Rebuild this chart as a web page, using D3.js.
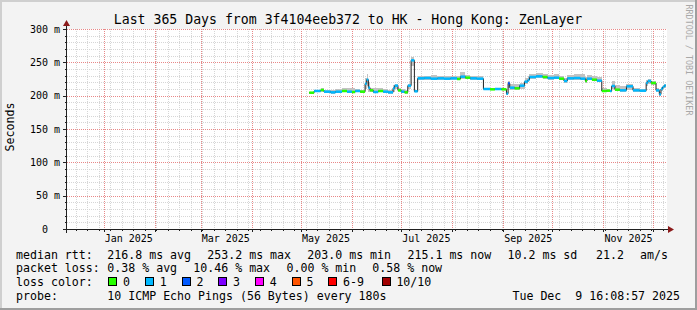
<!DOCTYPE html>
<html>
<head>
<meta charset="utf-8">
<script src="https://cdn.jsdelivr.net/npm/d3@7"></script>
<style>
html, body { margin: 0; padding: 0; background: #f3f3f3; }
svg text { font-family: "DejaVu Sans Mono", monospace; white-space: pre; }
</style>
</head>
<body>
<div id="chart"></div>
<script>
// samples of the median rtt (ms), loss bucket and smoke spread
const dates = [
  "2025-05-06","2025-05-09","2025-05-13","2025-05-15","2025-05-19","2025-05-22","2025-05-26","2025-05-29",
  "2025-06-01","2025-06-03","2025-06-06","2025-06-09","2025-06-10","2025-06-11","2025-06-12","2025-06-14",
  "2025-06-17","2025-06-20","2025-06-23","2025-06-26","2025-06-27","2025-06-29","2025-07-01","2025-07-03",
  "2025-07-05","2025-07-07","2025-07-09","2025-07-11","2025-07-15","2025-07-19","2025-07-23","2025-07-27",
  "2025-07-31","2025-08-04","2025-08-06","2025-08-09","2025-08-12","2025-08-16","2025-08-20","2025-08-24",
  "2025-08-27","2025-08-31","2025-09-03","2025-09-04","2025-09-05","2025-09-08","2025-09-11","2025-09-14",
  "2025-09-16","2025-09-17","2025-09-21","2025-09-25","2025-09-28","2025-10-02","2025-10-05","2025-10-08",
  "2025-10-10","2025-10-14","2025-10-18","2025-10-21","2025-10-22","2025-10-25","2025-10-28","2025-10-31",
  "2025-11-03","2025-11-05","2025-11-06","2025-11-08","2025-11-11","2025-11-15","2025-11-19","2025-11-23",
  "2025-11-27","2025-11-28","2025-11-30","2025-12-03","2025-12-05","2025-12-06","2025-12-07","2025-12-08"
];
const median = [
  204.5,207,208.5,206,205,206,207,206,
  205.5,207,206,218,224,212,208,205.5,
  207,206,205,211,215,208,206,205,
  215,253,206.5,226,226.5,225.5,226,225.5,
  226,225,228.5,227,226,225.5,210,209.5,
  210,209.5,203,218.5,212,211,215,221,
  223.5,228,229,228,226.5,227,225.5,222,
  226,226.5,225.5,222,225.5,224,222.5,207,
  207.5,207,214.5,209,208,214,208,207.5,
  219,222,219,208,202,210,213,215.1
];
const lossIdx = [
  0,1,0,1,1,1,0,1,
  0,1,0,1,1,1,0,1,
  0,1,1,1,1,0,1,0,
  1,1,1,1,1,1,1,1,
  1,0,1,0,1,1,1,0,
  1,0,1,2,1,0,1,1,
  1,1,1,0,1,1,0,1,
  1,1,1,0,1,0,1,0,
  0,1,1,0,1,1,1,1,
  1,1,0,1,1,1,1,1
];
const smokeLo = [
  203,205,206,204,203,204,205,204,
  204,205,204,210,214,206,205,204,
  205,204,203,206,210,205,204,203,
  210,244,205,224,224,223,224,223,
  224,223,225,225,224,223,208,208,
  208,208,201,212,209,209,210,217,
  220,225,226,225,224,225,223,219,
  224,224,223,219,223,222,220,205,
  205,205,210,207,206,209,206,206,
  215,218,216,206,200,207,210,212
];
const smokeHi = [
  206,209,211,209,208,210,211,212,
  211,210,209,226,232,220,212,211,
  211,210,209,216,218,212,210,208,
  218,258,209,229,230,231,230,229,
  230,229,235,231,230,229,212,211,
  212,211,206,222,218,217,219,226,
  230,233,234,233,231,232,230,227,
  231,233,232,228,231,230,228,212,
  210,209,222,216,214,218,211,210,
  223,225,222,212,205,213,216,218
];
const lastSample = "2025-12-09";

const yTicks = [0, 50, 100, 150, 200, 250, 300];
const yTickLabels = ["0", "50 m", "100 m", "150 m", "200 m", "250 m", "300 m"];
const monthLabelDates = ["2025-01-01", "2025-03-01", "2025-05-01", "2025-07-01", "2025-09-01", "2025-11-01"];
const monthLabels = ["Jan 2025", "Mar 2025", "May 2025", "Jul 2025", "Sep 2025", "Nov 2025"];
const lossNames = ["0", "1", "2", "3", "4", "5", "6-9", "10/10"];
const lossColors = ["#26ff00", "#00b8ff", "#0059ff", "#7e00ff", "#ff00ff", "#ff5500", "#ff0000", "#a10000"];

const W = 697, H = 310;
const parse = d3.timeParse("%Y-%m-%d");
const t0 = new Date(2024, 11, 9, 16, 8, 57), t1 = new Date(2025, 11, 9, 16, 8, 57);

const x = d3.scaleTime().domain([t0, t1]).range([67, 667]);
const y = d3.scaleLinear().domain([0, 300]).range([229, 29]);
const px = v => Math.round(v) + 0.5;

const svg = d3.select("#chart").append("svg")
  .attr("width", W).attr("height", H);

// frame
svg.append("rect").attr("width", W).attr("height", H).attr("fill", "#f3f3f3");
svg.append("path").attr("d", `M0,${H} V0 H${W}`).attr("fill", "none").attr("stroke", "#cfcfcf").attr("stroke-width", 4);
svg.append("path").attr("d", `M0,${H} H${W} V0`).attr("fill", "none").attr("stroke", "#9e9e9e").attr("stroke-width", 4);

// canvas
svg.append("rect").attr("x", 67).attr("y", 29).attr("width", 600).attr("height", 200).attr("fill", "#fff");

const grid = svg.append("g").attr("shape-rendering", "crispEdges");

// minor grid
grid.selectAll(".hmin").data(d3.range(0, 301, 10).filter(v => v % 50)).enter()
  .append("line").attr("x1", 67).attr("x2", 667)
  .attr("y1", d => px(y(d))).attr("y2", d => px(y(d)))
  .attr("stroke", "#d6d6d6").attr("stroke-dasharray", "1,1");
grid.selectAll(".vmin").data(d3.timeSunday.range(t0, t1)).enter()
  .append("line").attr("y1", 29).attr("y2", 229)
  .attr("x1", d => px(x(d))).attr("x2", d => px(x(d)))
  .attr("stroke", "#d6d6d6").attr("stroke-dasharray", "1,1");
// major grid
grid.selectAll(".hmaj").data(yTicks.slice(1)).enter()
  .append("line").attr("x1", 67).attr("x2", 667)
  .attr("y1", d => px(y(d))).attr("y2", d => px(y(d)))
  .attr("stroke", "#e88888").attr("stroke-dasharray", "1,1");
grid.selectAll(".vmaj").data(d3.timeMonth.range(t0, t1)).enter()
  .append("line").attr("y1", 29).attr("y2", 229)
  .attr("x1", d => px(x(d))).attr("x2", d => px(x(d)))
  .attr("stroke", "#e88888").attr("stroke-dasharray", "1,1");

// data
const pts = dates.map((d, i) => ({ t: parse(d), m: median[i], l: lossIdx[i], lo: smokeLo[i], hi: smokeHi[i] }));
pts.forEach((p, i) => { p.e = i < pts.length - 1 ? pts[i + 1].t : parse(lastSample); });

const plot = svg.append("g");
plot.selectAll(".smoke").data(pts).enter().append("rect")
  .attr("x", d => x(d.t)).attr("width", d => x(d.e) - x(d.t))
  .attr("y", d => y(d.hi)).attr("height", d => y(d.lo) - y(d.hi))
  .attr("fill", "#c2c2c2").attr("shape-rendering", "crispEdges");

const stepPts = pts.concat([{ t: parse(lastSample), m: median[median.length - 1] }]);
plot.append("path")
  .attr("d", d3.line().x(d => x(d.t)).y(d => y(d.m)).curve(d3.curveStepAfter)(stepPts))
  .attr("fill", "none").attr("stroke", "#202020").attr("stroke-width", 1);

plot.selectAll(".med").data(pts).enter().append("rect")
  .attr("x", d => x(d.t)).attr("width", d => x(d.e) - x(d.t))
  .attr("y", d => y(d.m) - 1.25).attr("height", 2.5)
  .attr("fill", d => lossColors[d.l]);

// axes
const ax = svg.append("g").attr("shape-rendering", "crispEdges");
ax.selectAll(".ytk").data(d3.range(0, 301, 10)).enter().append("line")
  .attr("x1", d => d % 50 ? 65 : 63).attr("x2", 67)
  .attr("y1", d => px(y(d))).attr("y2", d => px(y(d)))
  .attr("stroke", "#202020");
ax.selectAll(".xtk").data(d3.timeSunday.range(t0, t1)).enter().append("line")
  .attr("y1", 229).attr("y2", 231)
  .attr("x1", d => px(x(d))).attr("x2", d => px(x(d)))
  .attr("stroke", "#202020");
ax.selectAll(".xtkm").data(d3.timeMonth.range(t0, t1)).enter().append("line")
  .attr("y1", 229).attr("y2", 232)
  .attr("x1", d => px(x(d))).attr("x2", d => px(x(d)))
  .attr("stroke", "#202020");
ax.append("line").attr("x1", 63).attr("x2", 669).attr("y1", px(y(0))).attr("y2", px(y(0))).attr("stroke", "#202020");
ax.append("line").attr("x1", 66.5).attr("x2", 66.5).attr("y1", 233).attr("y2", 25).attr("stroke", "#202020");
svg.append("path").attr("d", `M668,${px(y(0)) - 3.5} L674,${px(y(0))} L668,${px(y(0)) + 3.5}Z`).attr("fill", "#8b1a1a");
svg.append("path").attr("d", "M63,26 L66.5,20 L70,26Z").attr("fill", "#8b1a1a");

// tick labels
svg.selectAll(".ylab").data(yTicks).enter().append("text")
  .attr("x", d => d === 0 ? 48 : 60).attr("y", d => y(d) + 3.5)
  .attr("text-anchor", "end").attr("font-size", 10).attr("fill", "#000")
  .text((d, i) => yTickLabels[i]);
svg.selectAll(".xlab").data(monthLabelDates).enter().append("text")
  .attr("x", d => x(parse(d)) + 1).attr("y", 241.5)
  .attr("font-size", 10).attr("fill", "#000")
  .text((d, i) => monthLabels[i]);

// title and side labels
svg.append("text").attr("x", 348).attr("y", 24).attr("text-anchor", "middle")
  .attr("font-size", 13.2).attr("fill", "#000")
  .text("Last 365 Days from 3f4104eeb372 to HK - Hong Kong: ZenLayer");
svg.append("text").attr("transform", "translate(14,127) rotate(-90)").attr("text-anchor", "middle")
  .attr("font-size", 11.6).attr("fill", "#000").text("Seconds");
svg.append("text").attr("transform", "translate(686,60) rotate(90)").attr("text-anchor", "middle")
  .attr("font-size", 8.4).attr("fill", "#a8a8a8").text("RRDTOOL / TOBI OETIKER");

// legend
const fs = 11.6;
const rows = [258.5, 272, 285.7, 299.5];
const legendText = [
  [16, rows[0], "median rtt:"], [107.3, rows[0], "216.8 ms avg"], [207.3, rows[0], "253.2 ms max"],
  [307.3, rows[0], "203.0 ms min"], [407.5, rows[0], "215.1 ms now"], [507.5, rows[0], "10.2 ms sd"],
  [596, rows[0], "21.2"], [640, rows[0], "am/s"],
  [16, rows[1], "packet loss:"], [107.3, rows[1], "0.38 % avg"], [193.3, rows[1], "10.46 % max"],
  [286.5, rows[1], "0.00 % min"], [372.3, rows[1], "0.58 % now"],
  [16, rows[2], "loss color:"],
  [16, rows[3], "probe:"], [107.3, rows[3], "10 ICMP Echo Pings (56 Bytes) every 180s"]
];
svg.selectAll(".leg").data(legendText).enter().append("text")
  .attr("x", d => d[0]).attr("y", d => d[1]).attr("font-size", fs).attr("fill", "#000")
  .text(d => d[2]);
svg.append("text").attr("x", 680).attr("y", rows[3]).attr("text-anchor", "end")
  .attr("font-size", fs).attr("fill", "#000").text("Tue Dec  9 16:08:57 2025");

const boxX = [108.3, 145, 181.7, 218.3, 255, 291.7, 328.3, 381.7];
const lg = svg.selectAll(".lbox").data(lossNames).enter().append("g");
lg.append("rect").attr("x", (d, i) => Math.round(boxX[i]) + 0.5).attr("y", 277.5)
  .attr("width", 8).attr("height", 8)
  .attr("fill", (d, i) => lossColors[i]).attr("stroke", "#000").attr("stroke-width", 1)
  .attr("shape-rendering", "crispEdges");
lg.append("text").attr("x", (d, i) => boxX[i] + 14.7).attr("y", rows[2])
  .attr("font-size", fs).attr("fill", "#000").text(d => d);
</script>
</body>
</html>
